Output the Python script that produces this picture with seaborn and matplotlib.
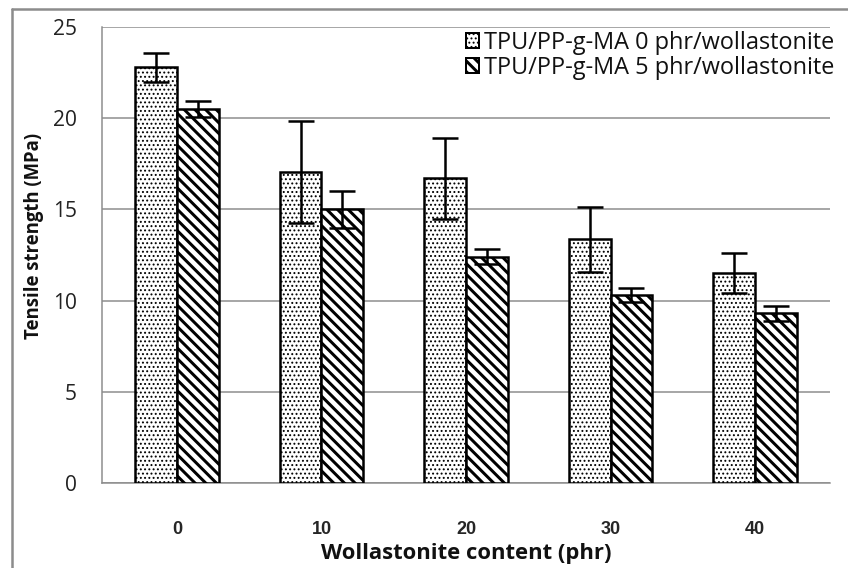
import matplotlib
matplotlib.use("Agg")
import matplotlib.pyplot as plt
from matplotlib.lines import Line2D
import seaborn as sns
import pandas as pd
import numpy as np

# ---- data ----
contents = ["0", "10", "20", "30", "40"]
series_names = ["TPU/PP-g-MA 0 phr/wollastonite", "TPU/PP-g-MA 5 phr/wollastonite"]
strength_0phr = [22.8, 17.05, 16.7, 13.35, 11.5]
error_0phr = [0.8, 2.8, 2.2, 1.8, 1.1]
strength_5phr = [20.5, 15.0, 12.4, 10.3, 9.3]
error_5phr = [0.45, 1.0, 0.42, 0.4, 0.42]
y_ticks = [0, 5, 10, 15, 20, 25]

DPI = 128
W, H = 848, 568


def px(p):
    return p * 72.0 / DPI


sns.set_theme(style="white")
plt.rcParams["font.family"] = ["Open Sans", "DejaVu Sans"]

df = pd.DataFrame({
    "content": contents * 2,
    "strength": strength_0phr + strength_5phr,
    "series": [series_names[0]] * len(contents) + [series_names[1]] * len(contents),
})

fig = plt.figure(figsize=(W / DPI, H / DPI), dpi=DPI)
ax = fig.add_axes([102 / W, 1 - 483 / H, (830 - 102) / W, (483 - 27) / H])

sns.barplot(data=df, x="content", y="strength", hue="series", order=contents,
            hue_order=series_names, palette=["white", "white"], edgecolor="black",
            linewidth=px(2.5), width=0.58, gap=0, errorbar=None, ax=ax, zorder=3)

bar_containers = list(ax.containers)
hatches = [".....", "\\\\\\\\"]
hatch_lw = [px(1.2), px(3.0)]
errs = [error_0phr, error_5phr]
vals = [strength_0phr, strength_5phr]
for ci, cont in enumerate(bar_containers):
    xs = []
    for p in cont.patches:
        p.set_hatch(hatches[ci])
        if hasattr(p, "set_hatch_linewidth"):
            p.set_hatch_linewidth(hatch_lw[ci])
        xs.append(p.get_x() + p.get_width() / 2)
    ax.errorbar(xs, vals[ci], yerr=errs[ci], fmt="none", ecolor="black",
                elinewidth=px(2.5), capsize=px(13), capthick=px(2.5), zorder=5)

ax.set_ylim(0, 25)
ax.set_yticks(y_ticks)
ax.set_yticklabels([str(t) for t in y_ticks])
ax.yaxis.grid(True, color="#8c8c8c", linewidth=px(1.5), zorder=0)
ax.xaxis.grid(False)
ax.set_axisbelow(True)

for s in ["top", "right"]:
    ax.spines[s].set_visible(False)
for s in ["left", "bottom"]:
    ax.spines[s].set_color("#8c8c8c")
    ax.spines[s].set_linewidth(px(1.5))

ax.tick_params(axis="y", length=0, pad=px(25), labelsize=px(21), labelcolor="#222222")
ax.tick_params(axis="x", length=0, pad=px(38))
for lab in ax.get_xticklabels():
    lab.set_fontfamily(["Liberation Sans", "DejaVu Sans"])
    lab.set_fontweight("bold")
    lab.set_fontsize(px(18))
for lab in ax.get_yticklabels():
    lab.set_fontsize(px(21))

ax.set_xlabel("Wollastonite content (phr)", fontsize=px(22), fontweight="bold",
              color="#111111")
ax.xaxis.set_label_coords(0.5, (483 - 553) / 456)
ax.xaxis.label.set_va("center")
ax.set_ylabel("Tensile strength (MPa)", fontsize=px(18.5), fontweight="bold",
              color="#111111")
ax.yaxis.set_label_coords((34 - 102) / 728, (483 - 236) / 456)
ax.yaxis.label.set_va("center")

if ax.get_legend() is not None:
    ax.get_legend().remove()
leg = ax.legend(handles=[c.patches[0] for c in bar_containers], labels=series_names,
                loc="upper right", bbox_to_anchor=(834 / W, 1 - 31 / H),
                bbox_transform=fig.transFigure, frameon=False,
                fontsize=px(23.5), handlelength=0.55, handleheight=0.6,
                handletextpad=0.2, labelspacing=0.05, borderpad=0, borderaxespad=0)
for t in leg.get_texts():
    t.set_color("#111111")
for h, lw in zip(leg.legend_handles, hatch_lw):
    h.set_linewidth(px(2))
    if hasattr(h, "set_hatch_linewidth"):
        h.set_hatch_linewidth(lw)

# outer frame (top and left edges of the chart border)
fig.add_artist(Line2D([12 / W, 12 / W], [0, 1 - 9 / H], transform=fig.transFigure,
                      color="#8c8c8c", linewidth=px(2.5)))
fig.add_artist(Line2D([12 / W, 1], [1 - 9 / H, 1 - 9 / H], transform=fig.transFigure,
                      color="#8c8c8c", linewidth=px(2.5)))

fig.savefig("out.png", dpi=DPI)
